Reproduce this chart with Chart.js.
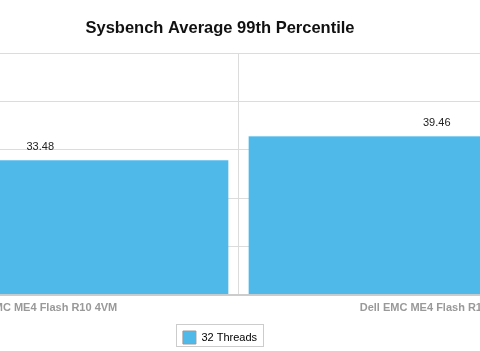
<!DOCTYPE html>
<html>
<head>
<meta charset="utf-8">
<script src="https://cdn.jsdelivr.net/npm/chart.js@4.4.1/dist/chart.umd.min.js"></script>
<style>
  html, body { margin: 0; padding: 0; background: #fff; overflow: hidden; }
  body { width: 480px; height: 351px; position: relative; }
  /* the reference is a crop of a wider chart, so the canvas sticks out on both sides */
  #wrap { position: absolute; left: -205px; top: 0; width: 850px; height: 354px; }
</style>
</head>
<body>
<div id="wrap"><canvas id="chart"></canvas></div>
<script>
const categories = ['Dell EMC ME4 Flash R10 4VM', 'Dell EMC ME4 Flash R10 8VM'];
const seriesName = '32 Threads';
const seriesValues = [33.48, 39.46];
const yTicks = [0, 12, 24, 36, 48, 60];

const barColor = '#4fbaea';
const fontFamily = '"Liberation Sans", Arial, sans-serif';

// value labels above each bar
const valueLabels = {
    id: 'valueLabels',
    afterDatasetsDraw(chart) {
        const ctx = chart.ctx;
        const meta = chart.getDatasetMeta(0);
        ctx.save();
        ctx.font = '11px ' + fontFamily;
        ctx.fillStyle = '#222';
        ctx.textAlign = 'center';
        ctx.textBaseline = 'bottom';
        meta.data.forEach((bar, i) => {
            ctx.fillText(seriesValues[i].toFixed(2), bar.x, bar.y - 7);
        });
        ctx.restore();
    }
};

// thin grey frame round the legend
const legendFrame = {
    id: 'legendFrame',
    afterDraw(chart) {
        const hb = chart.legend.legendHitBoxes[0];
        if (!hb) return;
        const ctx = chart.ctx;
        ctx.save();
        ctx.strokeStyle = '#cccccc';
        ctx.lineWidth = 1;
        ctx.strokeRect(Math.round(hb.left) - 6.5, Math.round(hb.top) - 6.5, Math.round(hb.width) + 13, Math.round(hb.height) + 9);
        ctx.restore();
    }
};

new Chart(document.getElementById('chart'), {
    type: 'bar',
    data: {
        labels: categories,
        datasets: [{
            label: seriesName,
            data: seriesValues,
            backgroundColor: barColor,
            borderColor: '#7dcbf0',
            borderWidth: { top: 1, left: 0, right: 0, bottom: 0 },
            borderSkipped: false,
            barPercentage: 0.95,
            categoryPercentage: 1
        }]
    },
    options: {
        animation: false,
        responsive: true,
        maintainAspectRatio: false,
        layout: { padding: { left: 10, right: 10, top: 0, bottom: 0 } },
        scales: {
            x: {
                grid: { color: '#dcdcdc', offset: true, drawTicks: false },
                border: { color: '#cccccc', width: 2 },
                ticks: {
                    color: '#999999',
                    padding: 7,
                    font: { family: fontFamily, size: 11, weight: 'bold' }
                }
            },
            y: {
                min: 0,
                max: 60,
                afterBuildTicks: scale => { scale.ticks = yTicks.map(v => ({ value: v })); },
                afterFit: scale => { scale.width = 37; },
                grid: { color: '#dcdcdc', drawTicks: false },
                border: { display: false },
                ticks: {
                    color: '#666',
                    padding: 8,
                    font: { family: fontFamily, size: 11 }
                }
            }
        },
        plugins: {
            title: {
                display: true,
                text: 'Sysbench Average 99th Percentile',
                color: '#111',
                padding: { top: 18.5, bottom: 14.7 },
                font: { family: fontFamily, size: 16.5, weight: 'bold', lineHeight: 1.2 }
            },
            legend: {
                position: 'bottom',
                labels: {
                    color: '#333',
                    boxWidth: 13,
                    boxHeight: 13,
                    padding: 9,
                    font: { family: fontFamily, size: 11 },
                    generateLabels: chart => [{
                        text: seriesName,
                        fillStyle: barColor,
                        strokeStyle: '#999999',
                        lineWidth: 1,
                        datasetIndex: 0
                    }]
                }
            },
            tooltip: { enabled: false }
        }
    },
    plugins: [valueLabels, legendFrame]
});
</script>
</body>
</html>
